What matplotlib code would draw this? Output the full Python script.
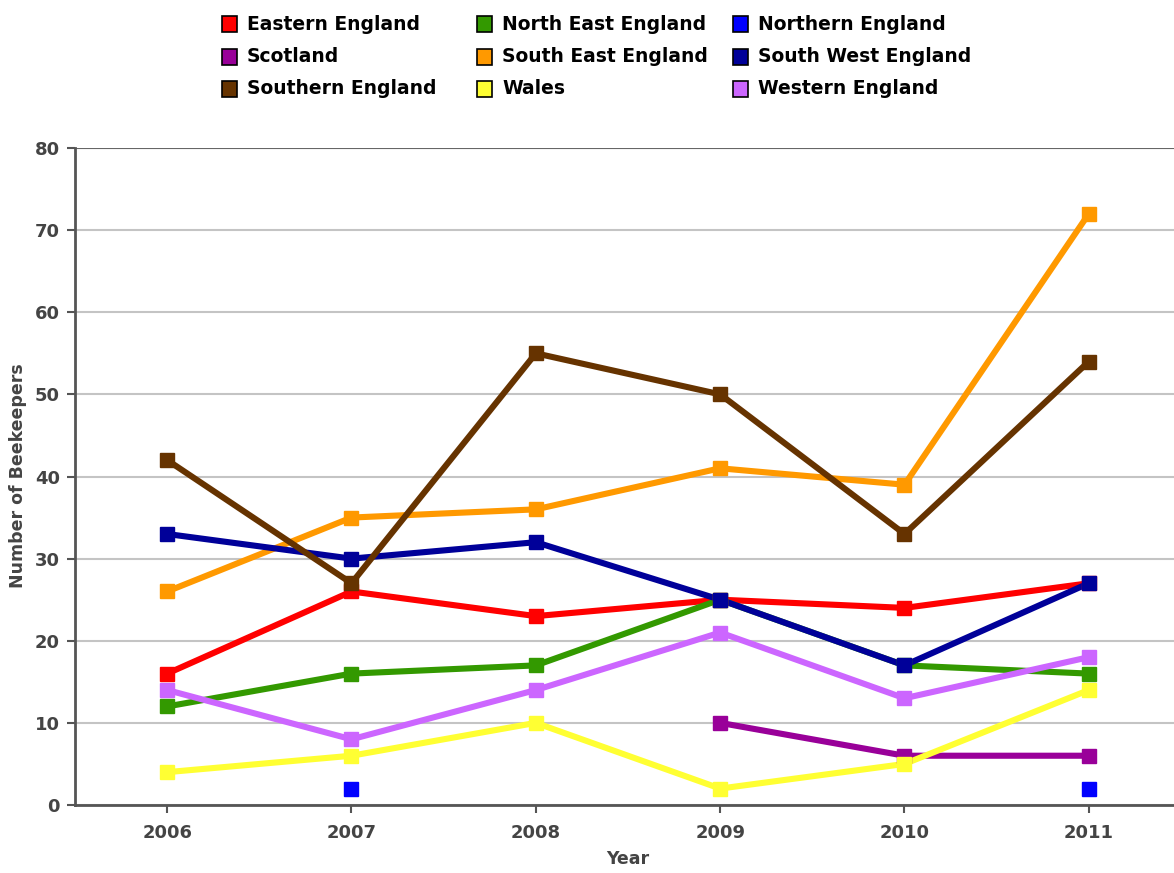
import matplotlib
matplotlib.use("Agg")
import matplotlib.pyplot as plt
import numpy as np
from matplotlib.patches import Rectangle

years = ["2006", "2007", "2008", "2009", "2010", "2011"]
nan = np.nan
eastern = [16, 26, 23, 25, 24, 27]
north_east = [12, 16, 17, 25, 17, 16]
northern = [nan, 2, nan, nan, nan, 2]
scotland = [nan, nan, nan, 10, 6, 6]
south_east = [26, 35, 36, 41, 39, 72]
south_west = [33, 30, 32, 25, 17, 27]
southern = [42, 27, 55, 50, 33, 54]
wales = [4, 6, 10, 2, 5, 14]
western = [14, 8, 14, 21, 13, 18]

series = [
    ("Eastern England", eastern, "#FF0000"),
    ("North East England", north_east, "#339900"),
    ("Northern England", northern, "#0000FF"),
    ("Scotland", scotland, "#990099"),
    ("South East England", south_east, "#FF9900"),
    ("South West England", south_west, "#000099"),
    ("Southern England", southern, "#663300"),
    ("Wales", wales, "#FFFF33"),
    ("Western England", western, "#CC66FF"),
]

W, H = 1174, 873
fig = plt.figure(figsize=(W / 100, H / 100), dpi=100)
ax = fig.add_axes([75 / W, 1 - 805 / H, (1181 - 75) / W, (805 - 148) / H])

x = np.arange(len(years))
for i, (name, vals, col) in enumerate(series):
    ax.plot(x, vals, color=col, lw=4.4, solid_joinstyle="miter", zorder=2 + i * 0.01)
for i, (name, vals, col) in enumerate(series):
    ax.plot(x, vals, color=col, ls="none", marker="s", markersize=9.5, zorder=3 + i * 0.01)

ax.set_xlim(-0.5, len(years) - 0.5)
ax.set_ylim(0, 80)
ax.set_yticks(range(0, 81, 10))
ax.set_xticks(x)
ax.set_xticklabels(years)
ax.yaxis.grid(True, color="#c4c4c4", lw=1.5)
ax.set_axisbelow(True)
ax.axhline(80, color="#666666", lw=1.5, zorder=1)
for s in ["top", "right"]:
    ax.spines[s].set_visible(False)
for s in ["left", "bottom"]:
    ax.spines[s].set_color("#555555")
    ax.spines[s].set_linewidth(2)
ax.tick_params(axis="both", colors="#555555", length=6, width=1.5, labelsize=13)
for lab in ax.get_xticklabels() + ax.get_yticklabels():
    lab.set_fontweight("bold")
    lab.set_color("#444444")
ax.tick_params(axis="x", pad=8)
ax.tick_params(axis="y", pad=5)

fig.text(628 / W, 1 - 859 / H, "Year", ha="center", va="center",
         fontsize=12.5, fontweight="bold", color="#444444")
fig.text(18 / W, 1 - 476 / H, "Number of Beekeepers", ha="center", va="center",
         rotation=90, fontsize=12.5, fontweight="bold", color="#444444")

# legend, filled row by row in 3 columns
col_x = [222, 477, 733]
row_y = [24, 57, 89]
box = 15
for k, (name, _, col) in enumerate(series):
    r, c = divmod(k, 3)
    px, py = col_x[c], row_y[r]
    fig.patches.append(Rectangle(((px) / W, 1 - (py + box / 2) / H), box / W, box / H,
                                 transform=fig.transFigure, facecolor=col,
                                 edgecolor="black", lw=1.2))
    fig.text((px + 25) / W, 1 - py / H, name, ha="left", va="center",
             fontsize=13.5, fontweight="bold", color="black")

fig.savefig("out.png", dpi=100)
